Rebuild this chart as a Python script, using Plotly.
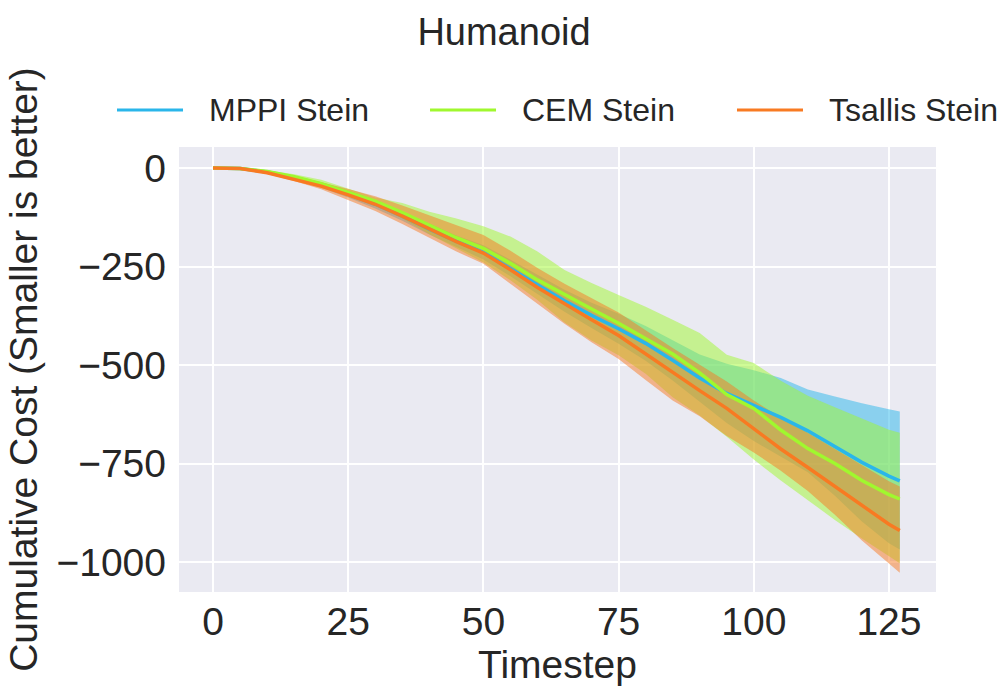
import plotly.graph_objects as go

# ---------------- data ----------------
timestep = [0, 5, 10, 15, 20, 25, 30, 35, 40, 45, 50, 55, 60, 65, 70, 75,
            80, 85, 90, 95, 100, 105, 110, 115, 120, 125, 127]

mppi_mean = [0, -1, -10, -24, -43, -66, -92, -122, -155, -186, -214, -254, -296, -337, -374, -408,
             -445, -488, -533, -572, -603, -633, -667, -706, -747, -782, -794]
mppi_upper = [0, 0, -7, -19, -36, -57, -81, -110, -141, -171, -196, -233, -272, -309, -342, -370,
              -401, -437, -473, -497, -513, -533, -562, -580, -597, -612, -618]
mppi_lower = [0, -2, -13, -29, -50, -75, -103, -134, -169, -201, -232, -275, -320, -365, -406, -446,
              -489, -539, -593, -647, -693, -733, -772, -832, -897, -952, -968]

cem_mean = [0, -1, -9, -22, -40, -61, -84, -113, -146, -177, -204, -242, -284, -322, -358, -394,
            -432, -472, -520, -575, -610, -665, -712, -750, -793, -829, -840]
cem_upper = [0, 0, -6, -16, -30, -53, -75, -89, -111, -128, -148, -174, -212, -259, -292, -322,
             -352, -385, -419, -474, -495, -540, -578, -607, -636, -664, -672]
cem_lower = [0, -2, -12, -27, -48, -70, -95, -128, -168, -205, -240, -285, -335, -392, -438, -475,
             -522, -582, -628, -682, -740, -793, -843, -893, -940, -985, -1003]

tsallis_mean = [0, -1, -12, -28, -46, -68, -92, -122, -155, -187, -216, -258, -303, -345, -385, -425,
                -472, -520, -565, -610, -662, -713, -760, -808, -858, -904, -920]
tsallis_upper = [0, 0, -9, -22, -36, -53, -72, -95, -120, -147, -170, -210, -254, -294, -330, -367,
                 -412, -457, -499, -542, -590, -633, -672, -713, -756, -795, -808]
tsallis_lower = [0, -2, -15, -33, -54, -81, -109, -142, -178, -212, -243, -293, -345, -395, -442, -485,
                 -538, -590, -630, -680, -722, -768, -820, -880, -945, -1005, -1027]

series_names = ["MPPI Stein", "CEM Stein", "Tsallis Stein"]
x_ticks = [0, 25, 50, 75, 100, 125]
y_ticks = [0, -250, -500, -750, -1000]

# ---------------- styling ----------------
colors = ["rgb(42,182,234)", "rgb(160,248,46)", "rgb(248,122,34)"]
fills = ["rgba(42,182,234,0.5)", "rgba(160,248,46,0.5)", "rgba(248,122,34,0.5)"]
FONT = "Liberation Sans, Arial, sans-serif"
TXT = "#262626"

means = [mppi_mean, cem_mean, tsallis_mean]
uppers = [mppi_upper, cem_upper, tsallis_upper]
lowers = [mppi_lower, cem_lower, tsallis_lower]

fig = go.Figure()
for name, lo, up, fc in zip(series_names, lowers, uppers, fills):
    fig.add_trace(go.Scatter(x=timestep, y=lo, mode="lines", line=dict(width=0),
                             showlegend=False, hoverinfo="skip", legendgroup=name))
    fig.add_trace(go.Scatter(x=timestep, y=up, mode="lines", line=dict(width=0),
                             fill="tonexty", fillcolor=fc, showlegend=False,
                             hoverinfo="skip", legendgroup=name))
for name, m, c in zip(series_names, means, colors):
    fig.add_trace(go.Scatter(x=timestep, y=m, mode="lines", name=name,
                             line=dict(color=c, width=3.5), showlegend=False, legendgroup=name))

# custom legend (line samples + labels) placed above the plot
leg_x0 = [-0.0819, 0.3316, 0.7371]
leg_len = 0.0872
leg_y = 1.083
for name, c, x0 in zip(series_names, colors, leg_x0):
    fig.add_shape(type="line", xref="paper", yref="paper", x0=x0, x1=x0 + leg_len,
                  y0=leg_y, y1=leg_y, line=dict(color=c, width=3))
    fig.add_annotation(xref="paper", yref="paper", x=x0 + leg_len + 0.0317, y=leg_y,
                       text=name, showarrow=False, xanchor="left", yanchor="middle",
                       font=dict(family=FONT, size=32, color=TXT))

fig.update_layout(
    width=1008, height=690,
    margin=dict(l=179, r=72, t=147, b=98),
    paper_bgcolor="white",
    plot_bgcolor="#EAEAF2",
    font=dict(family=FONT, size=39, color=TXT),
    title=dict(text="Humanoid", x=0.5, xref="container", xanchor="center",
               y=1 - 32 / 690, yref="container", yanchor="middle",
               font=dict(family=FONT, size=38, color=TXT)),
    xaxis=dict(range=[-6.3, 133.7], tickvals=x_ticks, showgrid=True, gridcolor="white",
               gridwidth=2, zeroline=False, showline=False, ticks="",
               title=dict(text="Timestep", standoff=2, font=dict(size=39)),
               tickfont=dict(size=39), ticklabelstandoff=3),
    yaxis=dict(range=[-1076, 53.3], tickvals=y_ticks, showgrid=True, gridcolor="white",
               gridwidth=2, zeroline=False, showline=False, ticks="",
               title=dict(text="Cumulative Cost (Smaller is better)", standoff=6,
                          font=dict(size=39)),
               tickfont=dict(size=39), ticklabelstandoff=12),
)

fig.write_html("out.html")
